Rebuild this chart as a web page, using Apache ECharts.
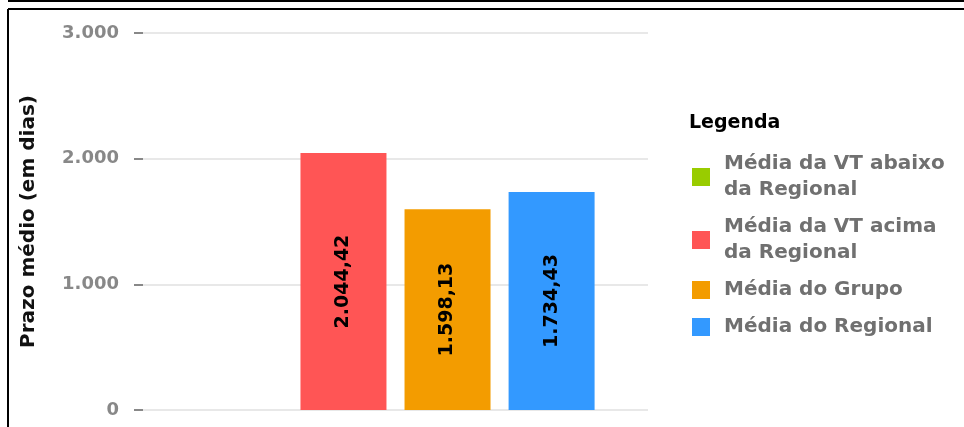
<!DOCTYPE html>
<html>
<head>
<meta charset="utf-8">
<script src="https://cdn.jsdelivr.net/npm/echarts@6/dist/echarts.min.js"></script>
<style>
html,body{margin:0;padding:0;background:#fff;}
#chart{width:964px;height:427px;}
</style>
</head>
<body>
<div id="chart"></div>
<script>
const categories = ['Prazo'];
const seriesNames = ['Média da VT abaixo da Regional', 'Média da VT acima da Regional', 'Média do Grupo', 'Média do Regional'];
const legendLabels = ['Média da VT abaixo\nda Regional', 'Média da VT acima\nda Regional', 'Média do Grupo', 'Média do Regional'];
const seriesColors = ['#99cc00', '#ff5555', '#f39c00', '#3399ff'];
const abaixoValues = [null];
const acimaValues = [2044.42];
const grupoValues = [1598.13];
const regionalValues = [1734.43];
const yTicks = [0, 1000, 2000, 3000];
const yAxisTitle = 'Prazo médio (em dias)';
const legendTitle = 'Legenda';

function fmtThousands(v, dec) {
  const fixed = dec ? v.toFixed(dec) : String(Math.round(v));
  const parts = fixed.split('.');
  const intPart = parts[0].replace(/\B(?=(\d{3})+(?!\d))/g, '.');
  return parts[1] ? intPart + ',' + parts[1] : intPart;
}

const allValues = [abaixoValues, acimaValues, grupoValues, regionalValues];
const font = 'DejaVu Sans';

const chart = echarts.init(document.getElementById('chart'));
chart.setOption({
  animation: false,
  backgroundColor: '#fff',
  grid: { left: 143, right: 316, top: 33, bottom: 17 },
  xAxis: {
    type: 'category',
    data: categories,
    axisLine: { show: false },
    axisTick: { show: false },
    axisLabel: { show: false }
  },
  yAxis: {
    type: 'value',
    min: yTicks[0],
    max: yTicks[yTicks.length - 1],
    interval: 1000,
    name: yAxisTitle,
    nameLocation: 'middle',
    nameGap: 104,
    nameTextStyle: { fontFamily: font, fontWeight: 'bold', fontSize: 20, color: '#111' },
    axisLine: { show: false },
    axisTick: { show: true, length: 9, lineStyle: { color: '#888', width: 2 } },
    axisLabel: {
      margin: 24,
      fontFamily: font, fontWeight: 'bold', fontSize: 18, color: '#888',
      formatter: v => fmtThousands(v, 0)
    },
    splitLine: { lineStyle: { color: '#e8e8e8', width: 2 } }
  },
  legend: {
    orient: 'vertical',
    left: 692,
    top: 151,
    padding: 0,
    itemGap: 11,
    itemWidth: 18,
    itemHeight: 18,
    icon: 'rect',
    data: seriesNames,
    formatter: name => legendLabels[seriesNames.indexOf(name)],
    textStyle: { fontFamily: font, fontWeight: 'bold', fontSize: 20, color: '#707070', lineHeight: 26, padding: [0, 0, 0, 9] }
  },
  graphic: [
    { type: 'text', left: 689, top: 114, style: { text: legendTitle, font: 'bold 19px "DejaVu Sans"', fill: '#000' } },
    { type: 'line', shape: { x1: 8, y1: 1, x2: 964, y2: 1 }, style: { stroke: '#000', lineWidth: 2 } },
    { type: 'line', shape: { x1: 8, y1: 9, x2: 964, y2: 9 }, style: { stroke: '#000', lineWidth: 2 } },
    { type: 'line', shape: { x1: 8, y1: 9, x2: 8, y2: 427 }, style: { stroke: '#000', lineWidth: 2 } }
  ],
  series: seriesNames.map((n, i) => ({
    name: n,
    type: 'bar',
    data: allValues[i],
    barWidth: 86,
    barGap: '21%',
    itemStyle: { color: seriesColors[i] },
    label: {
      show: true,
      position: 'inside',
      rotate: 90,
      fontFamily: font, fontWeight: 'bold', fontSize: 19, color: '#000',
      formatter: p => p.value == null ? '' : fmtThousands(p.value, 2)
    }
  }))
});
</script>
</body>
</html>
